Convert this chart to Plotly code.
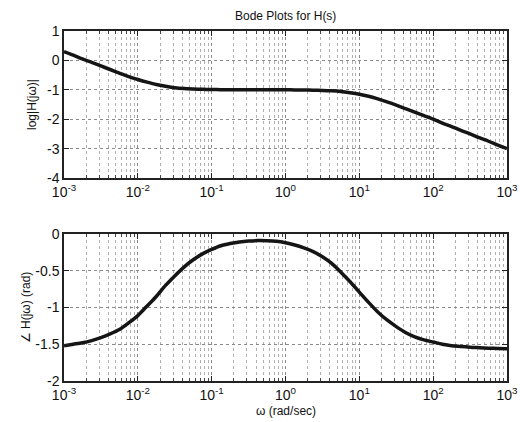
import plotly.graph_objects as go

# frequencies (rad/sec), eighth-decade steps
omega = [1e-3, 1.334e-3, 1.778e-3, 2.371e-3, 3.162e-3, 4.217e-3, 5.623e-3, 7.499e-3,
         1e-2, 1.334e-2, 1.778e-2, 2.371e-2, 3.162e-2, 4.217e-2, 5.623e-2, 7.499e-2,
         0.1, 0.1334, 0.1778, 0.2371, 0.3162, 0.4217, 0.5623, 0.7499,
         1.0, 1.334, 1.778, 2.371, 3.162, 4.217, 5.623, 7.499,
         10.0, 13.34, 17.78, 23.71, 31.62, 42.17, 56.23, 74.99,
         100.0, 133.4, 177.8, 237.1, 316.2, 421.7, 562.3, 749.9, 1000.0]
log_mag = [0.30, 0.18, 0.05, -0.07, -0.19, -0.31, -0.43, -0.55,
           -0.65, -0.74, -0.82, -0.88, -0.93, -0.96, -0.975, -0.985,
           -0.99, -0.995, -0.997, -0.998, -1.00, -1.00, -1.00, -1.00,
           -1.00, -1.004, -1.007, -1.012, -1.02, -1.035, -1.06, -1.10,
           -1.15, -1.22, -1.31, -1.41, -1.52, -1.64, -1.76, -1.88,
           -2.00, -2.13, -2.25, -2.38, -2.50, -2.63, -2.75, -2.88, -3.00]
phase = [-1.52, -1.50, -1.48, -1.45, -1.41, -1.36, -1.30, -1.21,
         -1.11, -0.98, -0.85, -0.70, -0.57, -0.45, -0.35, -0.27,
         -0.21, -0.16, -0.13, -0.108, -0.095, -0.09, -0.092, -0.10,
         -0.12, -0.15, -0.19, -0.24, -0.31, -0.40, -0.52, -0.65,
         -0.79, -0.93, -1.06, -1.17, -1.26, -1.34, -1.40, -1.44,
         -1.47, -1.50, -1.52, -1.53, -1.54, -1.547, -1.553, -1.557, -1.56]

x_tickvals = [1e-3, 1e-2, 1e-1, 1, 10, 100, 1000]
x_ticktext = ["10<sup>-3</sup>", "10<sup>-2</sup>", "10<sup>-1</sup>", "10<sup>0</sup>",
              "10<sup>1</sup>", "10<sup>2</sup>", "10<sup>3</sup>"]
x_minorvals = [m * d for d in [1e-3, 1e-2, 1e-1, 1, 10, 100] for m in range(2, 10)]
mag_tickvals = [1, 0, -1, -2, -3, -4]
mag_ticktext = ["1", "0", "-1", "-2", "-3", "-4"]
ph_tickvals = [0, -0.5, -1, -1.5, -2]
ph_ticktext = ["0", "-0.5", "-1", "-1.5", "-2"]

font = dict(family="Liberation Sans, Arial, sans-serif", size=12, color="#111111")

fig = go.Figure()
fig.add_trace(go.Scatter(x=omega, y=log_mag, mode="lines",
                         line=dict(color="#151515", width=3.5, shape="spline", smoothing=0.8),
                         xaxis="x", yaxis="y", showlegend=False))
fig.add_trace(go.Scatter(x=omega, y=phase, mode="lines",
                         line=dict(color="#151515", width=3.5, shape="spline", smoothing=0.8),
                         xaxis="x2", yaxis="y2", showlegend=False))

grid_col = "#8a8a8a"
xcommon = dict(type="log", range=[-3, 3], tickmode="array", tickvals=x_tickvals, ticktext=x_ticktext,
               showline=True, linecolor="#222222", linewidth=1.5, mirror="ticks",
               ticks="inside", ticklen=5, tickcolor="#222222",
               showgrid=True, gridcolor=grid_col, griddash="dot", gridwidth=1,
               minor=dict(tickmode="array", tickvals=x_minorvals, showgrid=True,
                          gridcolor="#b0b0b0", griddash="dot", gridwidth=1,
                          ticks="inside", ticklen=3, tickcolor="#444444"),
               zeroline=False, tickfont=dict(size=14), ticklabeloverflow="allow",
               automargin=False)
ycommon = dict(showline=True, linecolor="#222222", linewidth=1.5, mirror="ticks",
               ticks="inside", ticklen=5, tickcolor="#222222",
               showgrid=True, gridcolor=grid_col, griddash="dot", gridwidth=1,
               zeroline=False, tickfont=dict(size=14))

fig.update_layout(
    width=520, height=422,
    paper_bgcolor="white", plot_bgcolor="white",
    font=font,
    margin=dict(l=64, r=11, t=31, b=41),
    xaxis=dict(xcommon, anchor="y", domain=[0, 1]),
    yaxis=dict(ycommon, domain=[0.58, 1], range=[-4, 1], tickvals=mag_tickvals, ticktext=mag_ticktext,
               title=dict(text="log|H(jω)|", standoff=8, font=dict(size=12))),
    xaxis2=dict(xcommon, anchor="y2", domain=[0, 1]),
    yaxis2=dict(ycommon, domain=[0, 0.42], range=[-2, 0], tickvals=ph_tickvals, ticktext=ph_ticktext,
                title=dict(text="∠ H(jω) (rad)", standoff=2, font=dict(size=12))),
    annotations=[
        dict(text="Bode Plots for H(s)", xref="paper", yref="paper", x=0.5, y=1,
             yshift=6, xanchor="center", yanchor="bottom", showarrow=False,
             font=dict(size=12)),
        dict(text="ω (rad/sec)", xref="paper", yref="paper", x=0.5, y=0,
             yshift=-21, xanchor="center", yanchor="top", showarrow=False,
             font=dict(size=12)),
    ],
)

fig.write_html("out.html", config={"displayModeBar": False},
               post_script="document.body.style.margin='0';document.body.style.padding='0';")
